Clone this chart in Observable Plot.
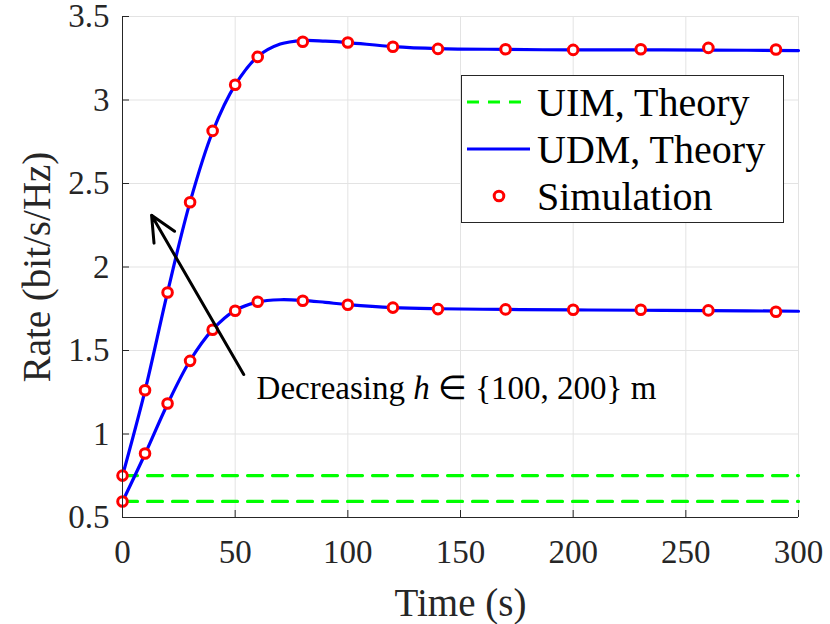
<!DOCTYPE html>
<html><head><meta charset="utf-8">
<script src="https://cdn.jsdelivr.net/npm/d3@7"></script>
<script src="https://cdn.jsdelivr.net/npm/@observablehq/plot@0.6"></script>
<style>
body{margin:0;background:#fff;}
#wrap{position:relative;width:830px;height:624px;}
#legend{position:absolute;left:461px;top:75px;width:323px;height:148px;border:1px solid #262626;background:#fff;box-sizing:border-box;}
.row{position:absolute;left:0;height:44px;display:flex;align-items:center;font-size:40px;color:#000;white-space:nowrap;}
.row svg{margin-left:5px;margin-right:6px;}
</style>
</head><body><div id="wrap"></div>
<script>
// Simulation points (markers)
const simTime  = [0, 10, 20, 30, 40, 50, 60, 80, 100, 120, 140, 170, 200, 230, 260, 290];
const simH100  = [0.751, 1.262, 1.847, 2.388, 2.815, 3.091, 3.258, 3.349, 3.344, 3.319, 3.306, 3.304, 3.300, 3.304, 3.312, 3.302];
const simH200  = [0.596, 0.883, 1.183, 1.438, 1.624, 1.738, 1.792, 1.798, 1.774, 1.757, 1.748, 1.746, 1.744, 1.744, 1.740, 1.732];
// UDM theory curves
const theoryTime = [0, 10, 20, 30, 40, 50, 60, 70, 80, 90, 100, 120, 140, 170, 200, 230, 260, 300];
const theoryH100 = [0.75, 1.26, 1.85, 2.39, 2.81, 3.09, 3.26, 3.335, 3.356, 3.352, 3.344, 3.32, 3.308, 3.303, 3.300, 3.300, 3.299, 3.296];
const theoryH200 = [0.595, 0.88, 1.18, 1.44, 1.625, 1.74, 1.79, 1.804, 1.80, 1.788, 1.775, 1.757, 1.750, 1.746, 1.743, 1.741, 1.739, 1.735];
// UIM theory (constant)
const uimTime = [0, 300];
const uimH100 = [0.751, 0.751];
const uimH200 = [0.596, 0.596];
// Axes
const xTicks = [0, 50, 100, 150, 200, 250, 300];
const yTicks = [0.5, 1, 1.5, 2, 2.5, 3, 3.5];
const yTickLabels = ["0.5", "1", "1.5", "2", "2.5", "3", "3.5"];
// Annotation
const arrowFrom = [53.8, 1.356];
const arrowTo = [12.9, 2.31];
const annotPos = [59.5, 1.272];
const annotText = "Decreasing h ∈ {100, 200} m";

const sim = simTime.flatMap((t, i) => [{t, v: simH100[i]}, {t, v: simH200[i]}]);
const theory = [
  ...theoryTime.map((t, i) => ({t, v: theoryH100[i], s: "h100"})),
  ...theoryTime.map((t, i) => ({t, v: theoryH200[i], s: "h200"}))
];
const uim = [
  ...uimTime.map((t, i) => ({t, v: uimH100[i], s: "h100"})),
  ...uimTime.map((t, i) => ({t, v: uimH200[i], s: "h200"}))
];

const serif = "Liberation Serif";
const axisColor = "#262626";
const plot = Plot.plot({
  width: 830, height: 624,
  marginLeft: 122, marginRight: 32, marginTop: 16, marginBottom: 107,
  style: {fontFamily: "'Liberation Serif', serif", fontSize: "30px", background: "white", color: axisColor, overflow: "visible"},
  x: {domain: [0, 300]},
  y: {domain: [0.5, 3.5]},
  marks: [
    Plot.gridX(xTicks, {stroke: "#e3e3e3", strokeOpacity: 1}),
    Plot.gridY(yTicks, {stroke: "#e3e3e3", strokeOpacity: 1}),
    Plot.line(uim, {x: "t", y: "v", z: "s", stroke: "#00ff00", strokeWidth: 3.2, strokeDasharray: "15,10"}),
    Plot.line(theory, {x: "t", y: "v", z: "s", stroke: "#0000ff", strokeWidth: 3.2, curve: "catmull-rom"}),
    Plot.dot(sim, {x: "t", y: "v", r: 4.8, stroke: "#ff0000", strokeWidth: 3, fill: "white"}),
    Plot.arrow([{x1: arrowFrom[0], y1: arrowFrom[1], x2: arrowTo[0], y2: arrowTo[1]}],
      {x1: "x1", y1: "y1", x2: "x2", y2: "y2", stroke: "black", strokeWidth: 3, headLength: 14, headAngle: 50}),
    Plot.text([annotText], {x: annotPos[0], y: annotPos[1], text: d => d, textAnchor: "start", fontSize: 33, fontFamily: serif, fill: "black"}),
    Plot.ruleX([0], {stroke: axisColor}),
    Plot.ruleY([0.5], {stroke: axisColor}),
    Plot.axisX(xTicks, {anchor: "bottom", tickSize: -7, tickPadding: 29, fontSize: 33, fontFamily: serif, stroke: axisColor,
      label: "Time (s)", labelAnchor: "center", labelOffset: 98, labelArrow: "none"}),
    Plot.axisY(yTicks, {anchor: "left", tickSize: -7, tickPadding: 20, fontSize: 33, fontFamily: serif, stroke: axisColor,
      tickFormat: (d, i) => yTickLabels[yTicks.indexOf(d)],
      label: "Rate (bit/s/Hz)", labelAnchor: "center", labelOffset: 100, labelArrow: "none"})
  ]
});

const wrap = document.getElementById("wrap");
wrap.appendChild(plot);

// italic h in annotation
d3.select(plot).selectAll("text").filter(function() { return this.textContent === annotText; })
  .each(function() {
    const t = d3.select(this);
    t.text(null);
    t.append("tspan").text("Decreasing ");
    t.append("tspan").attr("font-style", "italic").text("h");
    t.append("tspan").text(" ∈ {100, 200} m");
  });
// axis labels: size and face
d3.select(plot).selectAll("[aria-label='x-axis label'] text, [aria-label='y-axis label'] text")
  .attr("font-size", 39).attr("font-family", serif);
d3.select(plot).selectAll("text").attr("font-family", serif);

// Legend (inside the plot frame, top right)
const legendItems = [
  {label: "UIM, Theory", kind: "dash"},
  {label: "UDM, Theory", kind: "line"},
  {label: "Simulation", kind: "dot"}
];
const legend = document.createElement("div");
legend.id = "legend";
legendItems.forEach((item, i) => {
  const row = document.createElement("div");
  row.className = "row";
  row.style.top = (4 + i * 47) + "px";
  const ns = "http://www.w3.org/2000/svg";
  const sw = document.createElementNS(ns, "svg");
  sw.setAttribute("width", 64); sw.setAttribute("height", 20);
  if (item.kind === "dot") {
    const c = document.createElementNS(ns, "circle");
    c.setAttribute("cx", 32); c.setAttribute("cy", 10); c.setAttribute("r", 4.8);
    c.setAttribute("stroke", "#ff0000"); c.setAttribute("stroke-width", 3); c.setAttribute("fill", "white");
    sw.appendChild(c);
  } else {
    const l = document.createElementNS(ns, "line");
    l.setAttribute("x1", 0); l.setAttribute("x2", 63); l.setAttribute("y1", 10); l.setAttribute("y2", 10);
    l.setAttribute("stroke", item.kind === "dash" ? "#00ff00" : "#0000ff");
    l.setAttribute("stroke-width", 3.2);
    if (item.kind === "dash") l.setAttribute("stroke-dasharray", "12,9");
    sw.appendChild(l);
  }
  row.appendChild(sw);
  const span = document.createElement("span");
  span.textContent = item.label;
  span.style.fontFamily = "'Liberation Serif', serif";
  row.appendChild(span);
  legend.appendChild(row);
});
wrap.appendChild(legend);
</script></body></html>
